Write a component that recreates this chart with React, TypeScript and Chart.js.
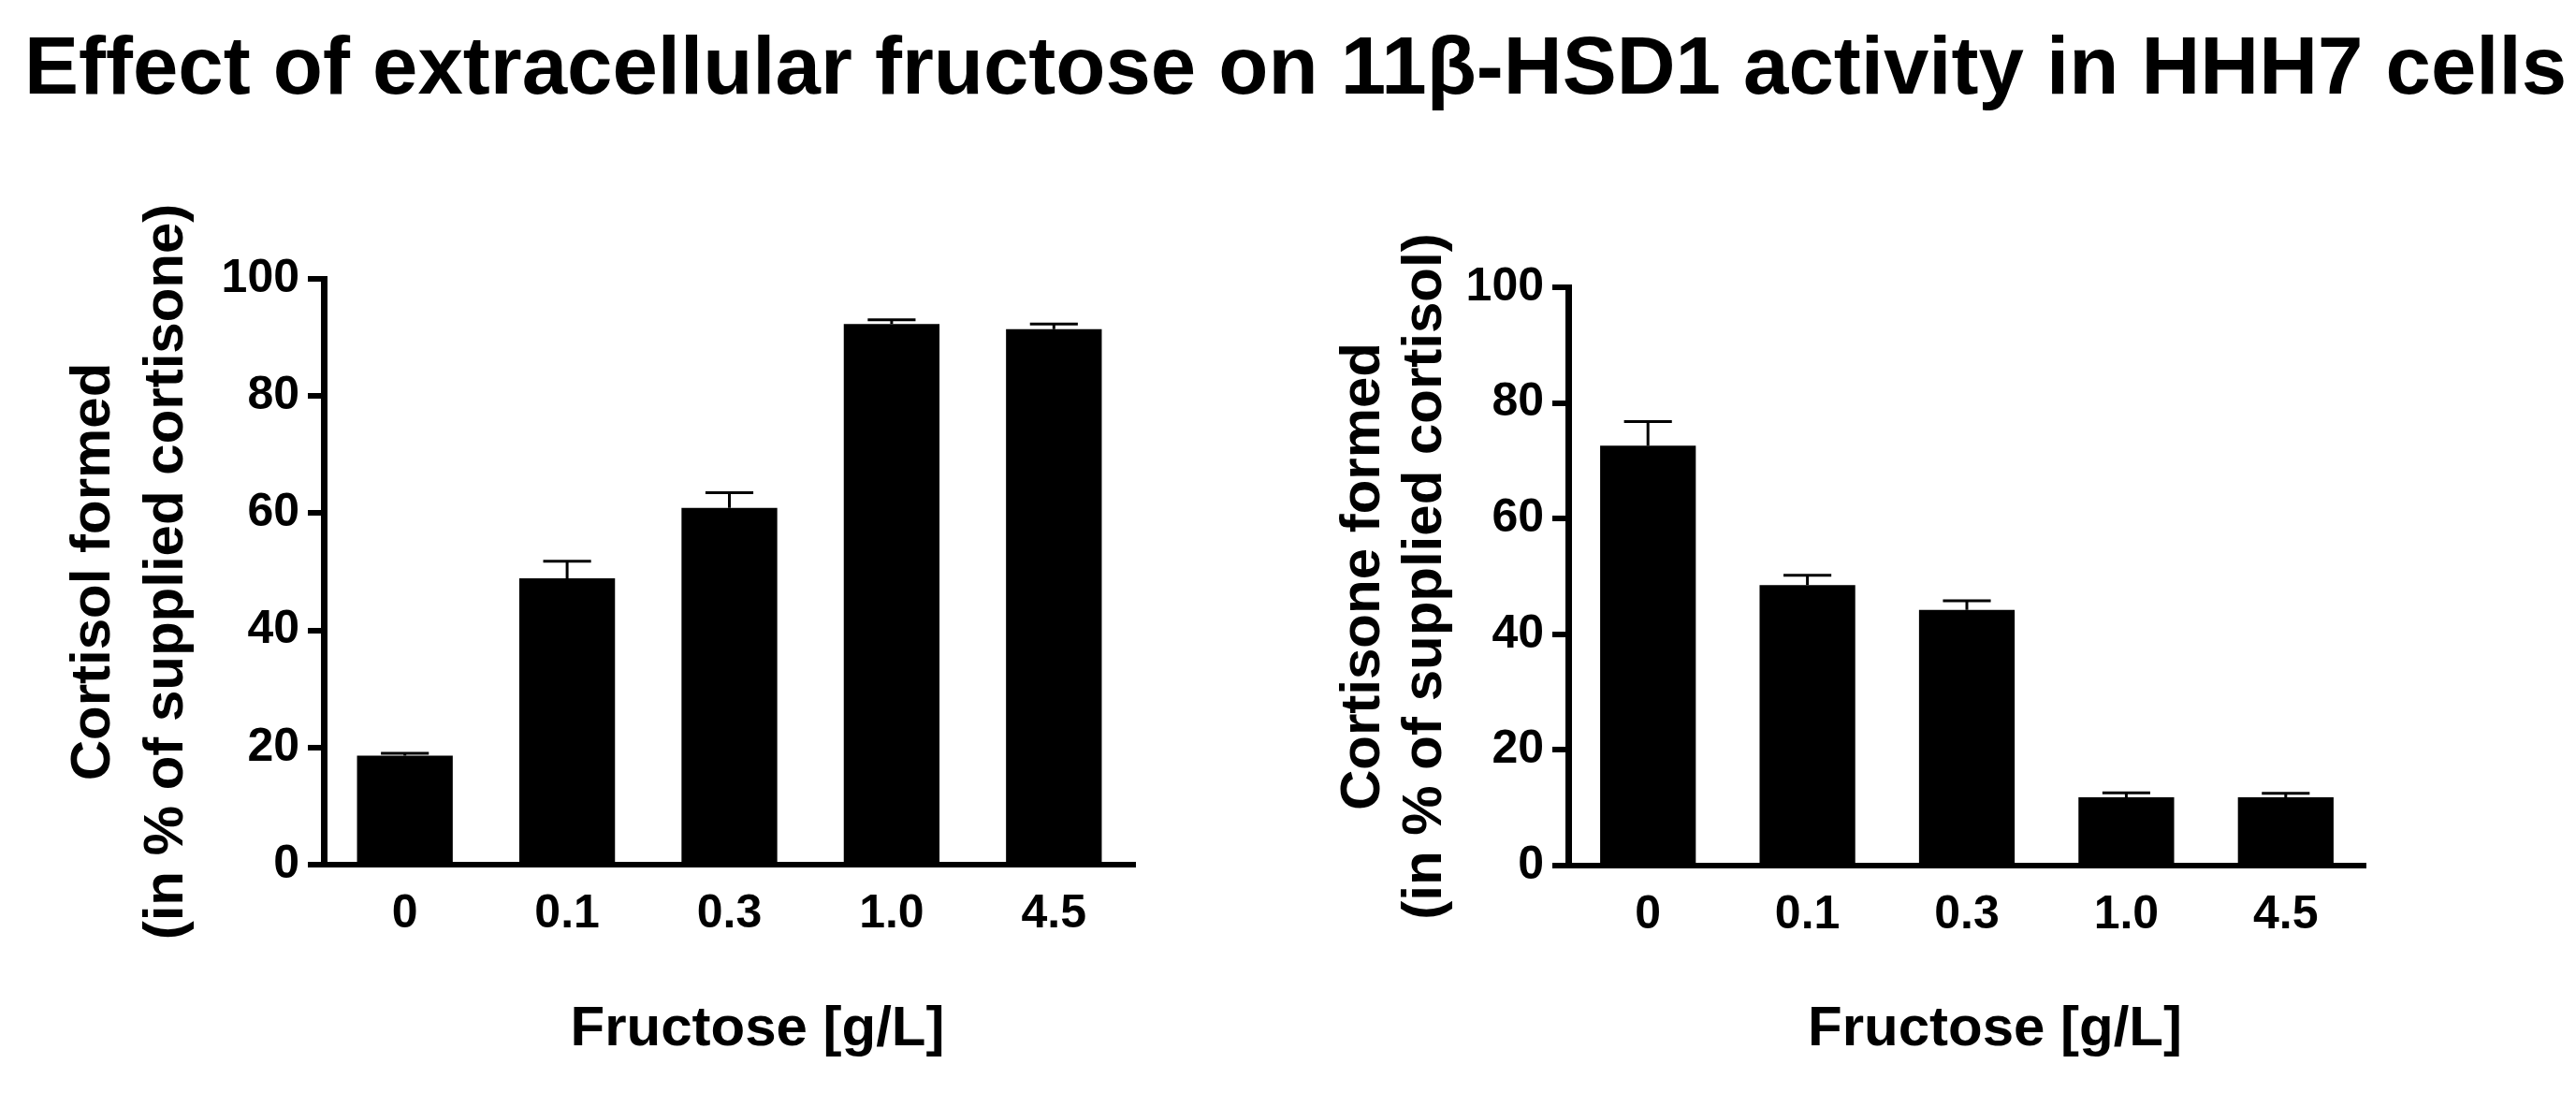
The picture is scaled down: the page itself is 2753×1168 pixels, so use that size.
import React, { useEffect, useRef } from 'react';
import { Chart, registerables } from 'chart.js';

Chart.register(...registerables);

// ---- data ----
const categories = ['0', '0.1', '0.3', '1.0', '4.5'];
const cortisolFormed = [18.6, 48.9, 60.9, 92.3, 91.4];
const cortisolFormedErr = [0.4, 2.9, 2.6, 0.7, 0.9];
const cortisoneFormed = [72.6, 48.5, 44.2, 11.8, 11.8];
const cortisoneFormedErr = [4.2, 1.7, 1.6, 0.8, 0.7];
const yMin = 0;
const yMax = 100;
const yStep = 20;
const mainTitle = 'Effect of extracellular fructose on 11\u03B2-HSD1 activity in HHH7 cells';
const xTitle = 'Fructose [g/L]';
const leftYTitle = ['Cortisol formed', '(in % of supplied cortisone)'];
const rightYTitle = ['Cortisone formed', '(in % of supplied cortisol)'];

const FONT = '"Liberation Sans", Arial, Helvetica, sans-serif';

const errorBarPlugin = {
  id: 'errorBars',
  afterDatasetsDraw(chart: any, _args: any, opts: any) {
    const { ctx } = chart;
    const meta = chart.getDatasetMeta(0);
    const yScale = chart.scales.y;
    const vals: number[] = chart.data.datasets[0].data;
    const errs: number[] = opts.errors || [];
    ctx.save();
    ctx.strokeStyle = '#000';
    ctx.lineWidth = 3;
    meta.data.forEach((bar: any, i: number) => {
      const x = bar.x;
      const yTop = bar.y;
      const yErr = yScale.getPixelForValue(vals[i] + errs[i]);
      const half = (bar.width * 0.5) / 2;
      ctx.beginPath();
      ctx.moveTo(x, yTop);
      ctx.lineTo(x, yErr);
      ctx.moveTo(x - half, yErr);
      ctx.lineTo(x + half, yErr);
      ctx.stroke();
    });
    ctx.restore();
  },
};

const xTitlePlugin = {
  id: 'xTitleOffset',
  afterDraw(chart: any, _args: any, opts: any) {
    const { ctx, chartArea } = chart;
    ctx.save();
    ctx.fillStyle = '#000';
    ctx.font = `bold ${opts.size}px ${FONT}`;
    ctx.textAlign = 'center';
    ctx.textBaseline = 'middle';
    ctx.fillText(opts.text, (chartArea.left + chartArea.right) / 2 + opts.dx, opts.y);
    ctx.restore();
  },
};

interface PanelProps {
  left: number;
  width: number;
  values: number[];
  errors: number[];
  yTitle: string[];
  padTop: number;
  padRight: number;
  axisWidth: number;
  axisHeight: number;
  titleLineHeight: number;
  titlePad: number;
  barPct: number;
}

const CANVAS_TOP = 160;
const CANVAS_H = 1008;

function BarPanel(p: PanelProps) {
  const ref = useRef<HTMLCanvasElement | null>(null);
  useEffect(() => {
    if (!ref.current) return;
    const chart = new Chart(ref.current, {
      type: 'bar',
      data: {
        labels: categories,
        datasets: [
          {
            data: p.values,
            backgroundColor: '#000',
            borderWidth: 0,
            barPercentage: p.barPct,
            categoryPercentage: 1,
          },
        ],
      },
      plugins: [errorBarPlugin, xTitlePlugin],
      options: {
        responsive: false,
        animation: false,
        devicePixelRatio: 1,
        layout: { padding: { top: p.padTop, right: p.padRight, bottom: 0, left: 0 } },
        plugins: {
          legend: { display: false },
          tooltip: { enabled: false },
          title: { display: false },
          errorBars: { errors: p.errors },
          xTitleOffset: { text: xTitle, size: 60, dx: 30, y: 940 },
        } as any,
        scales: {
          x: {
            type: 'category',
            offset: true,
            grid: { display: false, drawTicks: false },
            border: { display: true, color: '#000', width: 6 },
            ticks: {
              color: '#000',
              padding: 23,
              font: { family: FONT, size: 50, weight: 'bold' },
            },
            afterFit: (s: any) => {
              s.height = p.axisHeight;
            },
          },
          y: {
            type: 'linear',
            min: yMin,
            max: yMax,
            ticks: {
              stepSize: yStep,
              color: '#000',
              padding: 9,
              font: { family: FONT, size: 50, weight: 'bold' },
            },
            grid: {
              display: true,
              drawOnChartArea: false,
              drawTicks: true,
              tickLength: 17,
              tickWidth: 6,
              tickColor: '#000',
              lineWidth: 6,
              color: '#000',
            },
            border: { display: true, color: '#000', width: 7 },
            title: {
              display: true,
              text: p.yTitle,
              color: '#000',
              font: { family: FONT, size: 60, weight: 'bold', lineHeight: p.titleLineHeight },
              padding: { top: p.titlePad, bottom: 0 },
            },
            afterFit: (s: any) => {
              s.width = p.axisWidth;
            },
          },
        },
      } as any,
    });
    return () => chart.destroy();
  }, []);
  return (
    <canvas
      ref={ref}
      width={p.width}
      height={CANVAS_H}
      style={{ position: 'absolute', left: p.left, top: CANVAS_TOP, width: p.width, height: CANVAS_H }}
    />
  );
}

export default function App() {
  return (
    <div style={{ position: 'absolute', left: 0, top: 0, width: 2753, height: 1168, background: '#fff', overflow: 'hidden' }}>
      <div
        style={{
          position: 'absolute',
          left: 8,
          top: 20,
          width: 2753,
          textAlign: 'center',
          fontFamily: FONT,
          fontWeight: 'bold',
          fontSize: 87,
          lineHeight: '100px',
          color: '#000',
          whiteSpace: 'nowrap',
        }}
      >
        {mainTitle}
      </div>
      <BarPanel
        left={0}
        width={1380}
        values={cortisolFormed}
        errors={cortisolFormedErr}
        yTitle={leftYTitle}
        padTop={138}
        padRight={167}
        axisWidth={346}
        axisHeight={244}
        titleLineHeight={1.3}
        titlePad={61}
        barPct={0.59}
      />
      <BarPanel
        left={1380}
        width={1373}
        values={cortisoneFormed}
        errors={cortisoneFormedErr}
        yTitle={rightYTitle}
        padTop={147}
        padRight={225}
        axisWidth={296}
        axisHeight={243}
        titleLineHeight={1.1}
        titlePad={44}
        barPct={0.6}
      />
    </div>
  );
}
